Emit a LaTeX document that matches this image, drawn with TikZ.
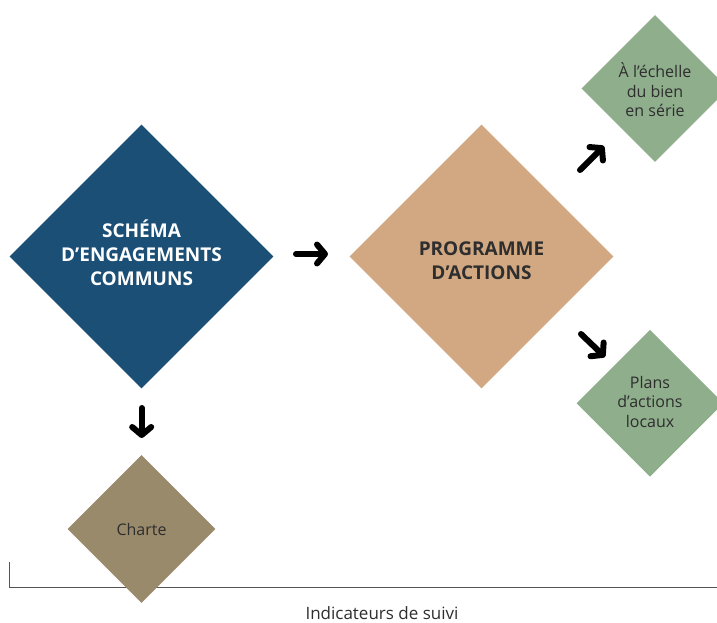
\documentclass[tikz,border=0pt]{standalone}
\usepackage{fontspec}
\setmainfont{Open Sans}
\usetikzlibrary{shapes.geometric,arrows.meta}
\definecolor{cblue}{HTML}{1B4F76}
\definecolor{ctan}{HTML}{D2A882}
\definecolor{cgreen}{HTML}{8FAE8C}
\definecolor{cbrown}{HTML}{9A8A6C}
\definecolor{ctext}{HTML}{2E2E2E}
\definecolor{cline}{HTML}{555555}
\tikzset{
  bigdia/.style={diamond, aspect=1, inner sep=0pt, minimum width=264pt, minimum height=264pt},
  bigtext/.style={align=center, inner sep=0pt, font=\fontsize{19}{24}\selectfont\bfseries},
  smalldia/.style={diamond, aspect=1, inner sep=0pt, minimum width=147pt, minimum height=147pt,
     align=center, text=ctext, font=\fontsize{16}{19.5}\selectfont},
  bigarrow/.style={line width=6pt, line cap=round, line join=round,
     -{Straight Barb[length=8pt,width=19pt,round]}},
  axisline/.style={draw=cline, line width=1.2pt},
}
\begin{document}
\begin{tikzpicture}[x=1pt,y=-1pt]
\useasboundingbox (0,0) rectangle (717,623);
\clip (0,0) rectangle (717,623);
% axis
\coordinate (ax0) at (9.7,562);
\coordinate (ax1) at (9.7,587.3);
\coordinate (ax2) at (717,587.3);
\draw[axisline] (ax0) -- (ax1) -- (ax2);
\node[font=\fontsize{17}{20}\selectfont, text=ctext, anchor=base, inner sep=0pt] (ind) at (382,619) {Indicateurs de suivi};
% diamonds
\node[bigdia, fill=cblue] (sec) at (141.5,256.5) {};
\node[bigtext, text=white] (sect) at ([yshift=4pt]sec.center) {SCHÉMA\\D’ENGAGEMENTS\\COMMUNS};
\node[bigdia, fill=ctan] (pa) at (481.5,256.5) {};
\node[bigtext, text=ctext] (pat) at ([yshift=-4pt]pa.center) {PROGRAMME\\D’ACTIONS};
\node[smalldia, fill=cgreen] (ech) at (655,88.5) {};
\node[smalldia, fill=none] (echt) at (655,90) {À l’échelle\\du bien\\en série};
\node[smalldia, fill=cgreen] (pal) at (650,403.3) {};
\node[smalldia, fill=none] (palt) at (650,401.8) {Plans\\d’actions\\locaux};
\node[smalldia, fill=cbrown, minimum width=148pt, minimum height=148pt] (ch) at (141.5,529) {Charte};
% arrows
\coordinate (r0) at (296,254);
\coordinate (r1) at (328,254);
\coordinate (d0) at (141.7,408);
\coordinate (d1) at (141.7,438);
\coordinate (u0) at (580,170);
\coordinate (u1) at (604,146);
\coordinate (s0) at (581,334);
\coordinate (s1) at (605,357);
\draw[bigarrow] (r0) -- (r1);
\draw[bigarrow] (d0) -- (d1);
\draw[bigarrow] (u0) -- (u1);
\draw[bigarrow] (s0) -- (s1);
\end{tikzpicture}
\end{document}
